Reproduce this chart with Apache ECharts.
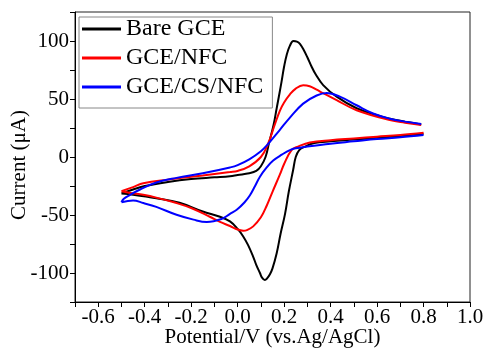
<!DOCTYPE html>
<html>
<head>
<meta charset="utf-8">
<script src="https://cdn.jsdelivr.net/npm/echarts@6/dist/echarts.min.js"></script>
<style>html,body{margin:0;padding:0;background:#fff;}#c{width:484px;height:348px;}</style>
</head>
<body>
<div id="c"></div>
<script>
// Series names
const seriesNames = ['Bare GCE', 'GCE/NFC', 'GCE/CS/NFC'];

// Bare GCE: forward (anodic) scan, potential V / current µA
const bareFwdV = [-0.5,-0.45,-0.4,-0.3,-0.2,-0.1,-0.033,0.0,0.05,0.08,0.1,0.12,0.135,0.155,0.168,0.18,0.189,0.2,0.211,0.225,0.24,0.255,0.268,0.285,0.3,0.318,0.335,0.368,0.426,0.512,0.6,0.655,0.72,0.79];
const bareFwdI = [-31.5,-28,-25,-21.5,-19,-17.5,-16.5,-15.5,-14,-12,-8,0,12,28,42,55,65,78,88,96,100,99.5,97.5,92,86,78,71.5,62,52,42,36,33,30.5,28];
// Bare GCE: reverse (cathodic) scan
const bareRevV = [0.8,0.7,0.6,0.5,0.4,0.33,0.29,0.265,0.25,0.239,0.22,0.204,0.185,0.168,0.15,0.139,0.125,0.117,0.105,0.096,0.08,0.067,0.045,0.024,0.0,-0.033,-0.076,-0.15,-0.25,-0.35,-0.45,-0.5];
const bareRevI = [20,18,16.5,15,13.5,12,9,6,0,-11,-30,-49,-66,-83,-96,-101,-105,-106,-104,-100,-93,-86,-76,-68.5,-62,-55.5,-51.5,-47,-39.5,-35.5,-32.5,-31.5];

// GCE/NFC
const nfcFwdV = [-0.5,-0.45,-0.406,-0.3,-0.15,-0.033,0.0,0.05,0.1,0.13,0.16,0.182,0.2,0.225,0.25,0.282,0.31,0.34,0.368,0.426,0.512,0.655,0.72,0.79];
const nfcFwdI = [-29.5,-26,-22.6,-19.5,-16,-13,-12,-8,0,11,28,40,47,54,59,61.8,61,58,55,49,40.3,31.8,29.5,27.5];
const nfcRevV = [0.8,0.7,0.6,0.5,0.4,0.311,0.26,0.232,0.2,0.182,0.15,0.125,0.1,0.067,0.04,0.024,0.0,-0.033,-0.076,-0.12,-0.2,-0.263,-0.35,-0.406,-0.46,-0.5];
const nfcRevI = [21,19,17.5,16,14.5,12.5,9,6,-6,-15,-30,-42,-52,-59.8,-63,-63.5,-62.5,-59.5,-56,-51.5,-44,-39.7,-35,-32.6,-31,-29.5];

// GCE/CS/NFC
const csFwdV = [-0.5,-0.49,-0.463,-0.42,-0.35,-0.263,-0.15,-0.033,0.0,0.05,0.1,0.13,0.18,0.225,0.282,0.34,0.383,0.44,0.512,0.583,0.655,0.72,0.79];
const csFwdI = [-39,-36,-32.6,-28,-22,-18,-14,-9,-7,-2,5,11,23,34,46,53,55.2,52,44.6,37.5,33,30.5,28.5];
const csRevV = [0.8,0.7,0.6,0.5,0.4,0.3,0.25,0.225,0.19,0.153,0.125,0.096,0.075,0.053,0.03,-0.004,-0.033,-0.07,-0.133,-0.19,-0.263,-0.35,-0.406,-0.45,-0.5];
const csRevI = [19,17,15.5,13.5,11.5,9,7.5,6,2,-3,-9,-17,-25,-33,-39,-45.5,-49,-53.5,-56,-54,-49.8,-43,-39.7,-37.5,-39];

const colors = ['#000000', '#ff0000', '#0000ff'];

function zip(a, b) { return a.map((v, i) => [v, b[i]]); }
// forward scan, a gap at the switching vertex, then the reverse scan
function loop(fv, fi, rv, ri) { return zip(fv, fi).concat([['-', '-']], zip(rv, ri)); }
const allData = [
  loop(bareFwdV, bareFwdI, bareRevV, bareRevI),
  loop(nfcFwdV, nfcFwdI, nfcRevV, nfcRevI),
  loop(csFwdV, csFwdI, csRevV, csRevI)
];

const font = 'Liberation Serif, Times New Roman, serif';
const chart = echarts.init(document.getElementById('c'), null, {renderer: 'canvas'});
chart.setOption({
  animation: false,
  backgroundColor: '#ffffff',
  grid: {left: 75, right: 14, top: 12, bottom: 46, show: true, borderColor: '#222', borderWidth: 1,
    backgroundColor: 'transparent', containLabel: false, outerBoundsMode: 'none'},
  legend: {
    orient: 'vertical', left: 79, top: 17,
    data: seriesNames,
    icon: 'rect',
    itemWidth: 39, itemHeight: 3, itemGap: 5,
    padding: [0, 9, 9, 3],
    borderColor: '#888', borderWidth: 1,
    textStyle: {fontFamily: font, fontSize: 24, color: '#000', lineHeight: 22}
  },
  xAxis: {
    type: 'value', min: -0.7, max: 1.0, interval: 0.1,
    name: 'Potential/V (vs.Ag/AgCl)', nameLocation: 'middle', nameGap: 25, nameMoveOverlap: false,
    nameTextStyle: {fontFamily: font, fontSize: 21, color: '#000'},
    axisLine: {onZero: false, lineStyle: {color: '#000', width: 1}},
    axisTick: {show: true, inside: false, length: 5, lineStyle: {color: '#000'}},
    splitLine: {show: false},
    axisLabel: {fontFamily: font, fontSize: 21, color: '#000', margin: 5,
      formatter: v => { const k = Math.round(v * 10); return (k % 2 === 0) ? (k / 10).toFixed(1) : ''; }}
  },
  yAxis: {
    type: 'value', min: -125, max: 125, interval: 25,
    name: 'Current (μA)', nameLocation: 'middle', nameGap: 45, nameMoveOverlap: false,
    nameTextStyle: {fontFamily: font, fontSize: 21, color: '#000', padding: [0, 16, 0, 0]},
    axisLine: {show: true, onZero: false, lineStyle: {color: '#000', width: 1}},
    axisTick: {show: true, inside: false, length: 5, lineStyle: {color: '#000'}},
    splitLine: {show: false},
    axisLabel: {fontFamily: font, fontSize: 21, color: '#000', margin: 6,
      formatter: v => (Math.round(v) % 50 === 0) ? String(Math.round(v)) : ''}
  },
  series: seriesNames.map((n, i) => ({
    name: n, type: 'line', data: allData[i], symbol: 'none', smooth: 0.4, connectNulls: false,
    lineStyle: {color: colors[i], width: 2}, itemStyle: {color: colors[i]}
  }))
});
</script>
</body>
</html>
